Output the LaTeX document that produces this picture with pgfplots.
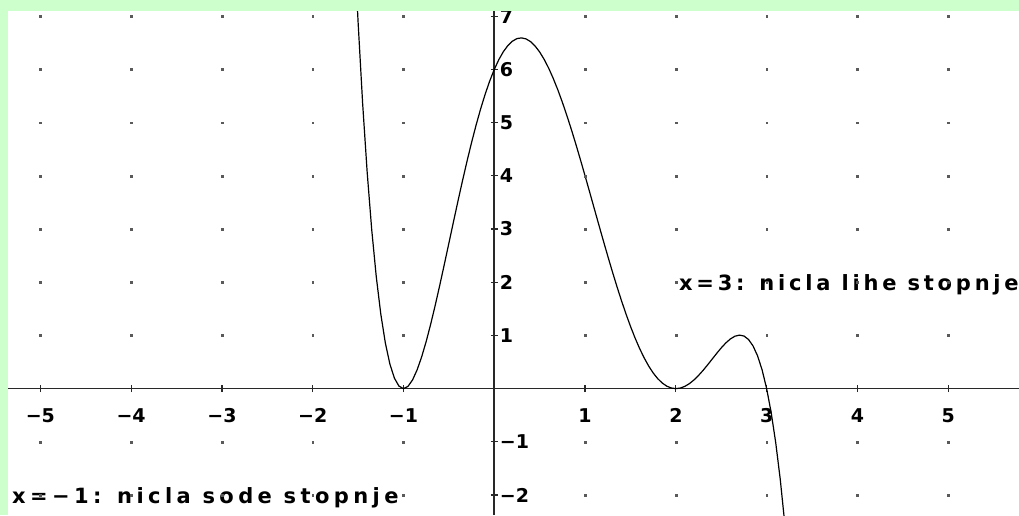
\documentclass[border=0pt]{standalone}
\usepackage{fontspec}
\usepackage{pgfplots}
\pgfplotsset{compat=1.18}
\newfontfamily\tickfont{DejaVu Sans}
\newfontfamily\notefont[LetterSpace=18]{DejaVu Sans}
\newfontfamily\notefontwide[LetterSpace=21]{DejaVu Sans}
\definecolor{frame}{RGB}{204,255,204}
\definecolor{axisgray}{RGB}{40,40,40}
\definecolor{dotgray}{RGB}{90,90,90}

\begin{document}
\begin{tikzpicture}
\useasboundingbox (0,0) rectangle (1019pt,515pt);
\clip (0,0) rectangle (1019pt,515pt);
\fill[frame] (0,0) rectangle (1019pt,515pt);
\begin{axis}[
  at={(8pt,0pt)}, anchor=south west,
  scale only axis, width=1011pt, height=504pt,
  xmin=-5.356, xmax=5.779, ymin=-2.376, ymax=7.099,
  axis lines=middle,
  axis line style={-, axisgray, line width=1.6pt},
  axis background/.style={fill=white},
  xtick={-5,-4,-3,-2,-1,1,2,3,4,5},
  xticklabels={−5,−4,−3,−2,−1,1,2,3,4,5},
  ytick={-2,-1,1,2,3,4,5,6,7},
  yticklabels={−2,−1,1,2,3,4,5,6,7},
  tick align=center,
  major tick length=7pt,
  tick style={axisgray, line width=1.2pt},
  xticklabel style={anchor=north, inner sep=0pt, yshift=-16pt,
    font=\tickfont\bfseries\fontsize{19}{21}\selectfont},
  yticklabel style={anchor=west, inner sep=0pt, xshift=9pt,
    font=\tickfont\bfseries\fontsize{19}{21}\selectfont},
  clip=true,
]
% lattice of grid points at the integer positions
\addplot[only marks, mark=square*, mark size=0.9pt, dotgray, mark options={draw=none}] coordinates {
(-5,-2)(-4,-2)(-3,-2)(-2,-2)(-1,-2)(1,-2)(2,-2)(3,-2)(4,-2)(5,-2)
(-5,-1)(-4,-1)(-3,-1)(-2,-1)(-1,-1)(1,-1)(2,-1)(3,-1)(4,-1)(5,-1)
(-5,1)(-4,1)(-3,1)(-2,1)(-1,1)(1,1)(2,1)(3,1)(4,1)(5,1)
(-5,2)(-4,2)(-3,2)(-2,2)(-1,2)(1,2)(2,2)(3,2)(4,2)(5,2)
(-5,3)(-4,3)(-3,3)(-2,3)(-1,3)(1,3)(2,3)(3,3)(4,3)(5,3)
(-5,4)(-4,4)(-3,4)(-2,4)(-1,4)(1,4)(2,4)(3,4)(4,4)(5,4)
(-5,5)(-4,5)(-3,5)(-2,5)(-1,5)(1,5)(2,5)(3,5)(4,5)(5,5)
(-5,6)(-4,6)(-3,6)(-2,6)(-1,6)(1,6)(2,6)(3,6)(4,6)(5,6)
(-5,7)(-4,7)(-3,7)(-2,7)(-1,7)(1,7)(2,7)(3,7)(4,7)(5,7)
};
% the polynomial, sampled every 0.05
\addplot[black, line width=1.2pt] coordinates {
(-1.55,8.673)(-1.50,6.891)(-1.45,5.363)(-1.40,4.069)(-1.35,2.990)
(-1.30,2.107)(-1.25,1.403)(-1.20,0.860)(-1.15,0.463)(-1.10,0.197)
(-1.05,0.0471)(-1.00,0)(-0.95,0.0430)(-0.90,0.164)(-0.85,0.352)
(-0.80,0.596)(-0.75,0.886)(-0.70,1.214)(-0.65,1.570)(-0.60,1.947)
(-0.55,2.337)(-0.50,2.734)(-0.45,3.132)(-0.40,3.525)(-0.35,3.908)
(-0.30,4.277)(-0.25,4.627)(-0.20,4.956)(-0.15,5.260)(-0.10,5.537)
(-0.05,5.784)(0.00,6.000)(0.05,6.184)(0.10,6.334)(0.15,6.450)
(0.20,6.532)(0.25,6.580)(0.30,6.594)(0.35,6.574)(0.40,6.523)
(0.45,6.440)(0.50,6.328)(0.55,6.188)(0.60,6.021)(0.65,5.830)
(0.70,5.617)(0.75,5.383)(0.80,5.132)(0.85,4.866)(0.90,4.587)
(0.95,4.297)(1.00,4.000)(1.05,3.698)(1.10,3.393)(1.15,3.089)
(1.20,2.788)(1.25,2.492)(1.30,2.203)(1.35,1.925)(1.40,1.659)
(1.45,1.407)(1.50,1.172)(1.55,0.955)(1.60,0.757)(1.65,0.581)
(1.70,0.426)(1.75,0.295)(1.80,0.188)(1.85,0.105)(1.90,0.0463)
(1.95,0.0114)(2.00,0)(2.05,0.0110)(2.10,0.0432)(2.15,0.0949)
(2.20,0.164)(2.25,0.248)(2.30,0.343)(2.35,0.447)(2.40,0.555)
(2.45,0.663)(2.50,0.766)(2.55,0.858)(2.60,0.933)(2.65,0.985)
(2.70,1.006)(2.75,0.989)(2.80,0.924)(2.85,0.803)(2.90,0.616)
(2.95,0.352)(3.00,0)(3.05,-0.452)(3.10,-1.017)(3.15,-1.708)
(3.20,-2.540)(3.25,-3.528)
};
\node[anchor=base west, inner sep=0pt, yshift=-8pt,
  font=\notefont\bfseries\fontsize{21}{24}\selectfont]
  at (axis cs:2.034,2) {x=3: nicla lihe stopnje};
\node[anchor=base west, inner sep=0pt, yshift=-8pt,
  font=\notefontwide\bfseries\fontsize{21}{24}\selectfont]
  at (axis cs:-5.312,-2) {x=−1: nicla sode stopnje};
\end{axis}
% frame strips along the top and left edges
\fill[frame] (0,504pt) rectangle (1019pt,515pt);
\fill[frame] (0,0) rectangle (8pt,515pt);
\end{tikzpicture}
\end{document}
